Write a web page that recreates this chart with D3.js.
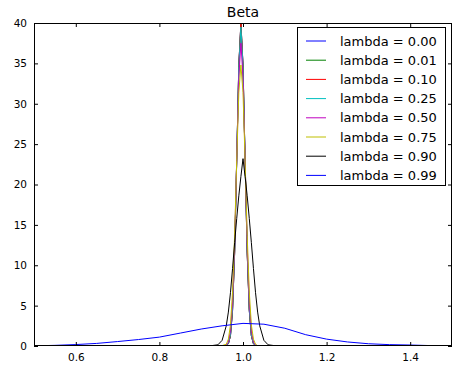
<!DOCTYPE html>
<html>
<head>
<meta charset="utf-8">
<script src="https://cdn.jsdelivr.net/npm/d3@7"></script>
<style>
  body { margin: 0; background: #fff; }
  svg { display: block; font-family: "DejaVu Sans", sans-serif; }
</style>
</head>
<body>
<svg id="chart" width="453" height="365"></svg>
<script>
// values
var lambdas = ['0.00', '0.01', '0.10', '0.25', '0.50', '0.75', '0.90', '0.99'];
var colors = ['#0000ff', '#008000', '#ff0000', '#00bfbf', '#bf00bf', '#bfbf00', '#000000', '#0000ff'];

// shared x grid for the narrow curves
var xNarrow = [0.50, 0.90, 0.92, 0.94, 0.95, 0.96, 0.965, 0.97, 0.975, 0.98, 0.985, 0.99, 0.995,
  1.00, 1.005, 1.01, 1.015, 1.02, 1.025, 1.03, 1.035, 1.04, 1.05, 1.06, 1.08, 1.10, 1.50];

var y000 = [0, 0, 0, 0, 0, 0.04, 0.27, 1.25, 4.4, 11.5, 23, 34.8, 40, 34.8, 23, 11.5, 4.4, 1.25, 0.27, 0.04, 0, 0, 0, 0, 0, 0, 0];
var y001 = [0, 0, 0, 0, 0, 0.04, 0.27, 1.25, 4.4, 11.5, 23, 34.8, 40, 34.8, 23, 11.5, 4.4, 1.25, 0.27, 0.04, 0, 0, 0, 0, 0, 0, 0];
var y010 = [0, 0, 0, 0, 0, 0.04, 0.28, 1.3, 4.5, 11.6, 23.1, 34.8, 40, 34.8, 23.1, 11.6, 4.5, 1.3, 0.28, 0.04, 0, 0, 0, 0, 0, 0, 0];
var y025 = [0, 0, 0, 0, 0.01, 0.06, 0.33, 1.4, 4.7, 12.0, 23.2, 34.6, 39.5, 34.6, 23.2, 12.0, 4.7, 1.4, 0.33, 0.06, 0.01, 0, 0, 0, 0, 0, 0];
var y050 = [0, 0, 0, 0, 0.02, 0.1, 0.5, 1.9, 5.5, 12.7, 23.2, 33.3, 37.5, 33.3, 23.2, 12.7, 5.5, 1.9, 0.5, 0.1, 0.02, 0, 0, 0, 0, 0, 0];
var y075 = [0, 0, 0, 0, 0.05, 0.22, 0.85, 2.6, 6.7, 13.7, 23.0, 31.4, 34.8, 31.4, 23.0, 13.7, 6.7, 2.6, 0.85, 0.22, 0.05, 0.01, 0, 0, 0, 0, 0];
var y090 = [0, 0, 0.01, 0.15, 0.7, 2.5, 4.2, 6.6, 9.6, 12.8, 15.8, 18.6, 21.0, 23.2, 21.0, 18.6, 15.8, 12.8, 9.6, 6.6, 4.2, 2.5, 0.7, 0.15, 0.01, 0, 0];

// the broad one (lambda = 0.99)
var xBroad = [0.50, 0.55, 0.60, 0.65, 0.70, 0.75, 0.80, 0.85, 0.90, 0.95, 1.00, 1.05, 1.10, 1.15, 1.20, 1.25, 1.30, 1.35, 1.40, 1.45, 1.50];
var y099 = [0.02, 0.08, 0.18, 0.32, 0.55, 0.8, 1.1, 1.6, 2.1, 2.5, 2.8, 2.7, 2.2, 1.4, 0.85, 0.5, 0.28, 0.17, 0.12, 0.05, 0.02];

var xTicks = [0.6, 0.8, 1.0, 1.2, 1.4];
var yTicks = [0, 5, 10, 15, 20, 25, 30, 35, 40];

var series = [
  {x: xNarrow, y: y000}, {x: xNarrow, y: y001}, {x: xNarrow, y: y010}, {x: xNarrow, y: y025},
  {x: xNarrow, y: y050}, {x: xNarrow, y: y075}, {x: xNarrow, y: y090}, {x: xBroad, y: y099}
];

var svg = d3.select('#chart');
var m = {left: 34, top: 23, right: 452, bottom: 346};

var xScale = d3.scaleLinear().domain([0.5, 1.5]).range([m.left, m.right]);
var yScale = d3.scaleLinear().domain([0, 40]).range([m.bottom, m.top]);

svg.append('clipPath').attr('id', 'clip')
  .append('rect')
  .attr('x', m.left).attr('y', m.top)
  .attr('width', m.right - m.left).attr('height', m.bottom - m.top);

var line = d3.line()
  .x(function(d) { return xScale(d[0]); })
  .y(function(d) { return yScale(d[1]); });

var plot = svg.append('g').attr('clip-path', 'url(#clip)');
series.forEach(function(s, i) {
  plot.append('path')
    .datum(s.x.map(function(v, j) { return [v, s.y[j]]; }))
    .attr('d', line)
    .attr('fill', 'none')
    .attr('stroke', colors[i])
    .attr('stroke-width', 1);
});

// axes, matplotlib classic: ticks inside, on all four sides
function styleAxis(g) {
  g.select('.domain').remove();
  g.selectAll('.tick line').attr('stroke', '#000');
  g.selectAll('.tick text').attr('fill', '#000').attr('font-size', '10.5px')
    .attr('font-family', '"DejaVu Sans", sans-serif');
}

svg.append('g').attr('transform', 'translate(0,' + m.bottom + ')')
  .call(d3.axisBottom(xScale).tickValues(xTicks).tickFormat(d3.format('.1f')).tickSizeInner(-4).tickPadding(8))
  .call(styleAxis);
svg.append('g').attr('transform', 'translate(0,' + m.top + ')')
  .call(d3.axisTop(xScale).tickValues(xTicks).tickSizeInner(-4).tickFormat(''))
  .call(styleAxis);
svg.append('g').attr('transform', 'translate(' + m.left + ',0)')
  .call(d3.axisLeft(yScale).tickValues(yTicks).tickSizeInner(-4).tickPadding(7))
  .call(styleAxis);
svg.append('g').attr('transform', 'translate(' + m.right + ',0)')
  .call(d3.axisRight(yScale).tickValues(yTicks).tickSizeInner(-4).tickFormat(''))
  .call(styleAxis);

svg.append('rect')
  .attr('x', m.left + 0.5).attr('y', m.top + 0.5)
  .attr('width', m.right - m.left - 1).attr('height', m.bottom - m.top - 1)
  .attr('fill', 'none').attr('stroke', '#000').attr('stroke-width', 1);

svg.append('text')
  .attr('x', (m.left + m.right) / 2).attr('y', 17)
  .attr('text-anchor', 'middle').attr('font-size', '14px')
  .text('Beta');

// legend
var lg = svg.append('g');
lg.append('rect')
  .attr('x', 297.5).attr('y', 27.5).attr('width', 148).attr('height', 158)
  .attr('fill', '#fff').attr('stroke', '#000');
lambdas.forEach(function(l, i) {
  var y = 41 + i * 19.2;
  lg.append('line')
    .attr('x1', 306).attr('x2', 326).attr('y1', y).attr('y2', y)
    .attr('stroke', colors[i]).attr('stroke-width', 1);
  lg.append('text')
    .attr('x', 340).attr('y', y).attr('dy', '0.35em')
    .attr('font-size', '13px')
    .text('lambda = ' + l);
});
</script>
</body>
</html>
